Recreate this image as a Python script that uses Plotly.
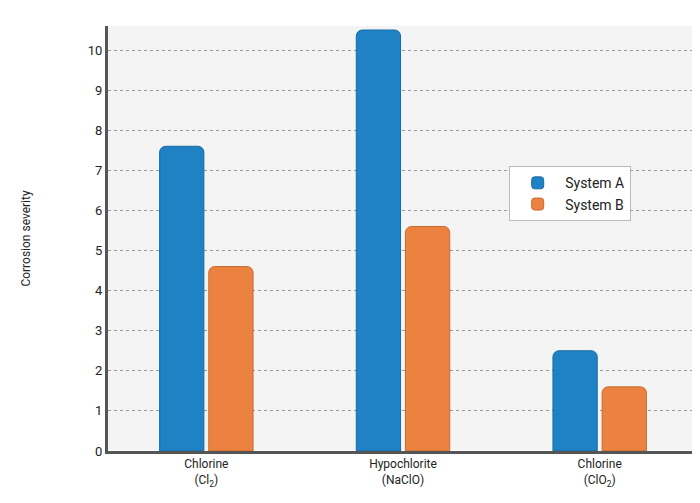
import plotly.graph_objects as go

categories = ["Chlorine<br>(Cl<sub>2</sub>)", "Hypochlorite<br>(NaClO)", "Chlorine<br>(ClO<sub>2</sub>)"]
system_a = [7.6, 10.5, 2.5]
system_b = [4.6, 5.6, 1.6]
yticks = list(range(0, 11))

fig = go.Figure()
fig.add_bar(x=categories, y=system_a, name="System A",
            marker=dict(color="#1e82c4", line=dict(color="#176aa3", width=1)))
fig.add_bar(x=categories, y=system_b, name="System B",
            marker=dict(color="#ec8240", line=dict(color="#c96a30", width=1)))

fig.update_layout(
    width=700, height=503,
    margin=dict(l=100, r=10, t=18, b=60),
    paper_bgcolor="white",
    plot_bgcolor="#f4f4f4",
    barmode="group", bargap=0.5, bargroupgap=0.1, barcornerradius=6,
    font=dict(family="Roboto, Liberation Sans, sans-serif", size=12, color="#222"),
    legend=dict(x=0.68, y=0.67, xanchor="left", yanchor="top",
                bgcolor="white", bordercolor="#bbb", borderwidth=1,
                font=dict(size=14), itemwidth=45, tracegroupgap=25),
    xaxis=dict(showline=True, linecolor="#555", linewidth=3, ticks="",
               tickfont=dict(size=12)),
    yaxis=dict(range=[0, 10.6], tickvals=yticks, showline=True, linecolor="#555",
               linewidth=3, gridcolor="#999", griddash="dot", gridwidth=1,
               ticks="", tickfont=dict(size=13),
               title=dict(text="Corrosion severity", font=dict(size=12), standoff=55)),
)
fig.write_html("out.html")
